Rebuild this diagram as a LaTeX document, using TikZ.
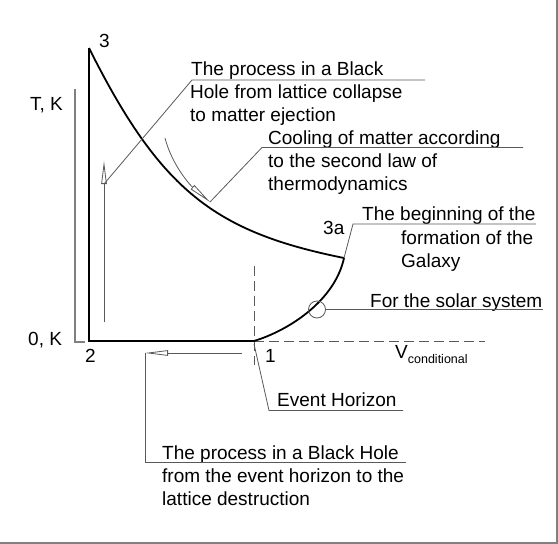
\documentclass[tikz,border=0pt]{standalone}
\usepackage{fontspec}
\setmainfont{Liberation Sans}
\usetikzlibrary{arrows.meta}
\definecolor{leadgray}{gray}{0.35}
\definecolor{framegray}{gray}{0.5}
\tikzset{opentri/.tip={Triangle[open,length=23pt,width=5.5pt,line width=0.8pt]}}
\begin{document}
\begin{tikzpicture}[x=1pt,y=-1pt,
  lbl/.style={anchor=base west,inner sep=0pt,font=\fontsize{19}{23}\selectfont},
  lead/.style={draw=leadgray,line width=0.8pt},
  axisline/.style={draw=framegray,line width=1.3pt},
  dashline/.style={draw=leadgray,line width=0.8pt,dash pattern=on 10pt off 5pt},
  curve/.style={draw=black,line width=1.8pt},
  frameline/.style={draw=framegray,line width=1.5pt}]
\useasboundingbox (0,0) rectangle (558,544);
% frame
\draw[frameline] (557,0) -- (557,543) -- (0,543);
% axis
\coordinate (ax0) at (75,89);
\coordinate (ax1) at (75,342);
\coordinate (ax2) at (85,342);
\draw[axisline] (ax0) -- (ax1) -- (ax2);
% key points
\coordinate (p3) at (89,48);
\coordinate (p2) at (89,341);
\coordinate (p1) at (254,341);
\coordinate (p3a) at (344,258);
% dashed lines
\coordinate (dv0) at (254,266);
\coordinate (dv1) at (254,365);
\coordinate (dh1) at (485,341);
\draw[dashline] (dv0) -- (dv1);
\draw[dashline] (p1) -- (dh1);
% main curves
\draw[curve] (p3) -- (p2) -- (p1);
\draw[curve] (p3) .. controls (160.6,191) and (215,232) .. (p3a);
\draw[curve] (p1) .. controls (290,330) and (335,300) .. (p3a);
% labels of points and axes
\node[lbl] (l3) at (99,47) {3};
\node[lbl] (tk) at (30,110) {T, K};
\node[lbl] (ok) at (28,345) {0, K};
\node[lbl] (l2) at (85,362) {2};
\node[lbl] (l1) at (265,362) {1};
\node[lbl] (l3a) at (323,234) {3a};
\node[lbl] (vc) at (395,358) {V\raisebox{-5pt}{\fontsize{12.5}{14}\selectfont conditional}};
% Box A: lattice collapse
\node[lbl] (a1) at (191,75) {The process in a Black};
\node[lbl] (a2) at (190,98) {Hole from lattice collapse};
\node[lbl] (a3) at (190,121) {to matter ejection};
\coordinate (au0) at (425,80);
\coordinate (au1) at (192,80);
\coordinate (aa0) at (104,322);
\coordinate (aa1) at (104,161);
\coordinate (aab) at (104,184);
\draw[lead,-opentri] (aa0) -- (aa1);
\draw[lead] (au0) -- (au1) -- (aab);
% Box B: cooling
\node[lbl] (b1) at (268,144) {Cooling of matter according};
\node[lbl] (b2) at (268,167) {to the second law of};
\node[lbl] (b3) at (268,190) {thermodynamics};
\coordinate (bu0) at (523,147.5);
\coordinate (bu1) at (262,147.5);
\coordinate (bc0) at (165,138);
\coordinate (bc1) at (210,202);
\draw[lead,-opentri] (bc0) .. controls (172,165) and (190,185) .. (bc1);
\draw[lead] (bu0) -- (bu1) -- (bc1);
% Box C: galaxy
\node[lbl] (c1) at (362,220) {The beginning of the};
\node[lbl] (c2) at (401,244) {formation of the};
\node[lbl] (c3) at (401,267) {Galaxy};
\coordinate (cu0) at (536,224);
\coordinate (cu1) at (353,224);
\draw[lead] (cu0) -- (cu1) -- (p3a);
% solar system
\node[circle,draw=leadgray,line width=0.8pt,minimum size=17pt,inner sep=0pt] (sol) at (317,309.5) {};
\node[lbl] (s1) at (370,307) {For the solar system};
\coordinate (su) at (543,309.5);
\draw[lead] (sol.east) -- (su);
% event horizon
\node[lbl] (eh) at (277,406) {Event Horizon};
\coordinate (e0) at (254,344);
\coordinate (e1) at (269,410.5);
\coordinate (e2) at (403,410.5);
\draw[lead] (e0) -- (e1) -- (e2);
% Box D: event horizon to lattice destruction
\node[lbl] (d1) at (162,459) {The process in a Black Hole};
\node[lbl] (d2) at (162,482) {from the event horizon to the};
\node[lbl] (d3) at (162,505) {lattice destruction};
\coordinate (da0) at (242,353);
\coordinate (da1) at (145,353);
\coordinate (du0) at (145,462.5);
\coordinate (du1) at (406,462.5);
\draw[lead,-opentri] (da0) -- (da1);
\draw[lead] (da1) -- (du0) -- (du1);
\end{tikzpicture}
\end{document}
